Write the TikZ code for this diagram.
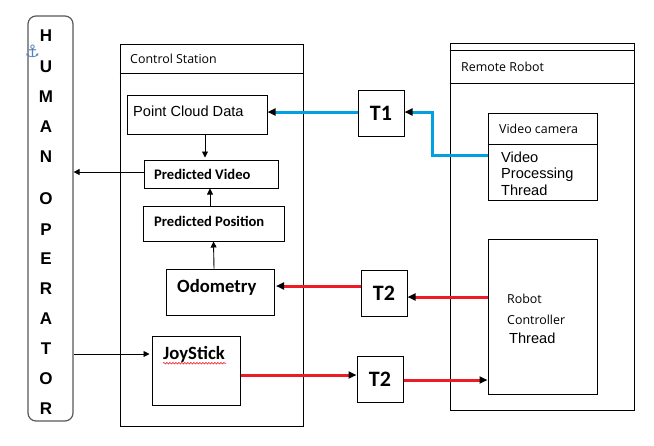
\documentclass[tikz,border=0pt]{standalone}
\usepackage{fontspec}
\setmainfont{Liberation Sans}
\newfontfamily\segfont{Open Sans}
\newfontfamily\calfont{Carlito}
\newfontfamily\djvfont{DejaVu Sans}
\usetikzlibrary{arrows.meta,decorations.pathmorphing}
\definecolor{lnblue}{RGB}{0,160,226}
\definecolor{lnred}{RGB}{237,28,36}
\definecolor{anchorblue}{RGB}{80,130,190}
\begin{document}
\begin{tikzpicture}[x=1pt,y=-1pt,
  box/.style={draw, line width=1pt, inner sep=0pt, fill=white},
  txt/.style={inner sep=0pt, anchor=west},
  segtxt/.style={txt, font=\segfont\fontsize{12.4}{13}\selectfont},
  blk/.style={line width=0.9pt, -{Triangle[length=6pt,width=6pt]}},
  thickred/.style={line width=3pt, lnred, -{Triangle[length=8pt,width=7pt,color=black]}},
  thickblue/.style={line width=3pt, lnblue, -{Triangle[length=8pt,width=7pt,color=black]}},
  tbox/.style={box, minimum width=46, minimum height=46, font=\calfont\bfseries\fontsize{22}{22}\selectfont},
  letter/.style={inner sep=0pt, font=\fontsize{17}{17}\selectfont\bfseries}]
\useasboundingbox (0,0) rectangle (654,445);
\fill[white] (0,0) rectangle (654,445);

% Human operator
\node[draw=black!65, line width=1.2pt, rounded corners=8pt, minimum width=45, minimum height=405, inner sep=0pt] (human) at (50.5,218.5) {};
\foreach \l/\yy in {H/36,U/67,M/97,A/127,N/157,O/199,P/229.5,E/259,R/289,A/319,T/349,O/378.5,R/408.5}
  \node[letter] at (46,\yy) {\l};
\node[inner sep=0pt, text=anchorblue, font=\djvfont\fontsize{17}{17}\selectfont] (anch) at (32.5,51) {⚓};

% Control station
\node[box, minimum width=183, minimum height=382] (cs) at (211.5,235) {};
\draw[line width=1pt] (cs.west |- 0,73) -- (cs.east |- 0,73);
\node[segtxt] (cst) at (130,59) {Control Station};

\node[box, minimum width=140, minimum height=39] (pcd) at (197,114.5) {};
\node[txt, font=\fontsize{14.6}{16}\selectfont] (pcdt) at (133,111.5) {Point Cloud Data};

\node[box, minimum width=134, minimum height=28] (pv) at (211,174) {};
\node[txt, font=\calfont\bfseries\fontsize{14.6}{16}\selectfont] (pvt) at (154,174) {Predicted Video};

\node[box, minimum width=141, minimum height=35] (pp) at (213.5,223.5) {};
\node[txt, font=\calfont\bfseries\fontsize{14.6}{16}\selectfont] (ppt) at (154,221) {Predicted Position};

\node[box, minimum width=108, minimum height=46] (odo) at (220,292) {};
\node[txt, font=\calfont\bfseries\fontsize{18.7}{20}\selectfont] (odot) at (177,287) {Odometry};

\node[box, minimum width=88, minimum height=69] (js) at (196,370.5) {};
\node[txt, font=\calfont\bfseries\fontsize{18.7}{20}\selectfont] (jst) at (163,354) {JoyStick};
\draw[lnred, line width=0.6pt, decorate, decoration={snake, amplitude=0.8pt, segment length=3pt}] (jst.south west) ++(0,1) -- ++(63,0);

% T boxes
\node[tbox] (t1) at (381,113) {T1};
\node[tbox] (t2a) at (384,293) {T2};
\node[tbox] (t2b) at (380,379) {T2};

% Remote robot
\node[box, minimum width=184, minimum height=367] (rr) at (542,226.5) {};
\draw[line width=1pt] (rr.west |- 0,50) -- (rr.east |- 0,50);
\draw[line width=1pt] (rr.west |- 0,83) -- (rr.east |- 0,83);
\node[segtxt] (rrt) at (461,66.5) {Remote Robot};

\node[box, minimum width=109, minimum height=87] (vc) at (542.5,156.5) {};
\draw[line width=1pt] (vc.west |- 0,144) -- (vc.east |- 0,144);
\node[segtxt] (vct) at (499,129) {Video camera};
\node[txt, anchor=north west, align=left, font=\fontsize{14.6}{16.5}\selectfont] (vpt) at (501,151.5) {Video\\Processing\\Thread};

\node[box, minimum width=109, minimum height=155] (rct) at (542.5,316.5) {};
\node[segtxt] (rct1) at (507,299) {Robot};
\node[segtxt] (rct2) at (507,320) {Controller};
\node[txt, font=\fontsize{14.6}{16}\selectfont] (rct3) at (509,338.5) {Thread};

% Black connectors
\draw[blk, shorten >=2pt] ([xshift=8]pcd.south) -- ([xshift=-6]pv.north);
\draw[blk] ([xshift=-3.5]pp.north) -- ([xshift=-1]pv.south);
\draw[blk] ([xshift=-6]odo.north) -- (pp.south);
\draw[blk] ([yshift=2]pv.west) -- ([yshift=2]human.east |- pv.west);
\draw[blk, shorten >=2pt] (human.east |- 0,354) -- (js.west |- 0,354);

% Blue connectors
\draw[thickblue] (vc.west |- 0,155) -| (432,112) -- (t1.east |- 0,112);
\draw[thickblue] (t1.west |- 0,112) -- (pcd.east |- 0,112);

% Red connectors
\draw[thickred] (rct.west |- 0,297) -- (t2a.east |- 0,297);
\draw[thickred, shorten >=1.5pt] (t2a.west |- 0,286) -- (odo.east |- 0,286);
\draw[thickred] (js.east |- 0,375) -- (t2b.west |- 0,375);
\draw[thickred] (t2b.east |- 0,380) -- (rct.west |- 0,380);
\end{tikzpicture}
\end{document}
